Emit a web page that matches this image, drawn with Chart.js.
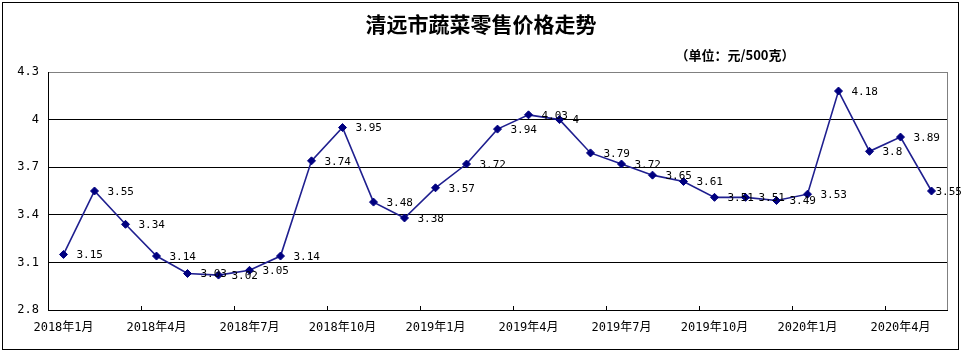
<!DOCTYPE html>
<html>
<head>
<meta charset="utf-8">
<script src="https://cdn.jsdelivr.net/npm/chart.js@4"></script>
<style>
    html, body { margin: 0; padding: 0; background: #fff; }
    #wrap { position: relative; width: 965px; height: 354px; }
    #frame { position: absolute; left: 2px; top: 2px; width: 957px; height: 348px; border: 1px solid #000; box-sizing: border-box; pointer-events: none; }
    .txt { position: absolute; white-space: nowrap; font-family: "Noto Sans CJK SC", sans-serif; font-weight: bold; color: #000; transform: translate(-50%, -50%); line-height: 1; }
    #title { left: 481px; top: 23px; font-size: 21px; }
    #unit { left: 735px; top: 54px; font-size: 13px; }
    canvas { position: absolute; left: 0; top: 0; }
</style>
</head>
<body>
<div id="wrap">
    <canvas id="chart" width="965" height="354"></canvas>
    <div id="frame"></div>
    <div class="txt" id="title">清远市蔬菜零售价格走势</div>
    <div class="txt" id="unit">（单位：元/500克）</div>
</div>
<script>
// ---- data ----
const months = [
    '2018年1月', '2018年2月', '2018年3月', '2018年4月', '2018年5月', '2018年6月',
    '2018年7月', '2018年8月', '2018年9月', '2018年10月', '2018年11月', '2018年12月',
    '2019年1月', '2019年2月', '2019年3月', '2019年4月', '2019年5月', '2019年6月',
    '2019年7月', '2019年8月', '2019年9月', '2019年10月', '2019年11月', '2019年12月',
    '2020年1月', '2020年2月', '2020年3月', '2020年4月', '2020年5月'
];
const prices = [
    3.15, 3.55, 3.34, 3.14, 3.03, 3.02, 3.05, 3.14, 3.74, 3.95, 3.48, 3.38,
    3.57, 3.72, 3.94, 4.03, 4, 3.79, 3.72, 3.65, 3.61, 3.51, 3.51, 3.49,
    3.53, 4.18, 3.8, 3.89, 3.55
];
const yTicks = [2.8, 3.1, 3.4, 3.7, 4.0, 4.3];

const MONO = "'DejaVu Sans Mono', 'Noto Sans CJK SC', monospace";

// value labels to the right of each point
const pointLabels = {
    id: 'pointLabels',
    afterDatasetsDraw(chart) {
        const ctx = chart.ctx;
        const meta = chart.getDatasetMeta(0);
        ctx.save();
        ctx.font = '11px ' + MONO;
        ctx.fillStyle = '#000';
        ctx.textAlign = 'left';
        ctx.textBaseline = 'middle';
        meta.data.forEach((pt, i) => {
            // the last label is pulled in so it stays inside the frame
            const dx = i === meta.data.length - 1 ? 4 : 13;
            ctx.fillText(String(prices[i]), pt.x + dx, pt.y + 1);
        });
        ctx.restore();
    }
};

// right border + small tick marks every 3 months
const frameBits = {
    id: 'frameBits',
    afterDraw(chart) {
        const { ctx, chartArea } = chart;
        const x = chart.scales.x;
        ctx.save();
        ctx.strokeStyle = '#808080';
        ctx.lineWidth = 1;
        ctx.beginPath();
        ctx.moveTo(Math.round(chartArea.right) + 0.5, chartArea.top);
        ctx.lineTo(Math.round(chartArea.right) + 0.5, chartArea.bottom);
        ctx.stroke();
        ctx.strokeStyle = '#000';
        ctx.beginPath();
        for (let i = 3; i < months.length; i += 3) {
            const px = Math.round((x.getPixelForValue(i - 1) + x.getPixelForValue(i)) / 2) + 0.5;
            ctx.moveTo(px, chartArea.bottom - 4);
            ctx.lineTo(px, chartArea.bottom);
        }
        ctx.stroke();
        ctx.restore();
    }
};

new Chart(document.getElementById('chart'), {
    type: 'line',
    data: {
        labels: months,
        datasets: [{
            data: prices,
            borderColor: '#1f1f8f',
            borderWidth: 1.6,
            tension: 0,
            pointStyle: 'rectRot',
            pointRadius: 4,
            pointBackgroundColor: '#000080',
            pointBorderColor: '#000080',
            pointBorderWidth: 1
        }]
    },
    options: {
        responsive: false,
        animation: false,
        layout: { padding: { left: 0, right: 18, top: 72, bottom: 0 } },
        plugins: {
            legend: { display: false },
            tooltip: { enabled: false }
        },
        scales: {
            x: {
                offset: true,
                grid: { display: false, drawTicks: false },
                border: { display: true, color: '#000', width: 1 },
                ticks: {
                    autoSkip: false,
                    maxRotation: 0,
                    padding: 11,
                    color: '#000',
                    font: { family: MONO, size: 12 },
                    callback: (v, i) => (i % 3 === 0 ? months[i] : '')
                },
                afterFit: s => { s.height = 44; }
            },
            y: {
                min: 2.8,
                max: 4.3,
                afterBuildTicks: s => { s.ticks = yTicks.map(v => ({ value: v })); },
                grid: {
                    drawTicks: false,
                    color: c => (Math.abs(c.tick.value - 4.3) < 1e-6 ? '#808080' : '#000'),
                    lineWidth: 1
                },
                border: { display: true, color: '#000', width: 1 },
                ticks: {
                    padding: 9,
                    color: '#000',
                    font: { family: MONO, size: 12 },
                    callback: v => String(+v.toFixed(1))
                },
                afterFit: s => { s.width = 48; }
            }
        }
    },
    plugins: [pointLabels, frameBits]
});
</script>
</body>
</html>
